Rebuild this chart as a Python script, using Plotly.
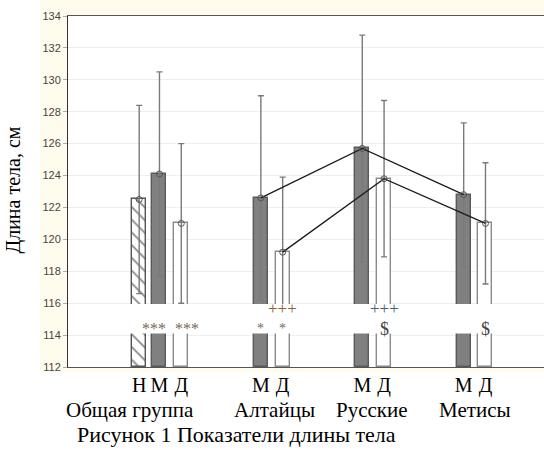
import plotly.graph_objects as go

# Body length (cm): means and standard deviations
groups = ["Общая группа", "Алтайцы", "Русские", "Метисы"]
n_mean = [122.5]
n_sd = [5.9]
m_mean = [124.1, 122.6, 125.7, 122.8]
m_sd = [6.4, 6.4, 7.1, 4.5]
d_mean = [121.0, 119.2, 123.8, 121.0]
d_sd = [5.0, 4.7, 4.9, 3.8]

# significance marks: (text, group index, series, level)
marks = [
    ("***", 0, "М", "low"), ("***", 0, "Д", "low"),
    ("*", 1, "М", "low"), ("*", 1, "Д", "low"),
    ("+++", 1, "Д", "high"),
    ("+++", 2, "Д", "high"), ("$", 2, "Д", "low"),
    ("$", 3, "Д", "low"),
]

# layout of bars inside a group
offset = {"Н": -0.2, "М": 0.0, "Д": 0.215}
bar_w = 0.138
grp = list(range(len(groups)))
xn = [g + offset["Н"] for g in grp[:1]]
xm = [g + offset["М"] for g in grp]
xd = [g + offset["Д"] for g in grp]

serif = "Liberation Serif, Times New Roman, serif"
sans = "Liberation Sans, Arial, sans-serif"
err_col = "#7a7a7a"

fig = go.Figure()

def bars(x, y, sd, fill, line, pattern=None):
    fig.add_trace(go.Bar(
        x=x, y=[v - 112 for v in y], base=112, width=bar_w,
        marker=dict(color=fill, line=dict(color=line, width=1.4),
                    pattern=pattern),
        error_y=dict(type="data", array=sd, color=err_col,
                     thickness=1.4, width=3),
        showlegend=False, hoverinfo="skip",
    ))

bars(xn, n_mean, n_sd, "white", "#555555",
     dict(shape="\\", fgcolor="#111111", bgcolor="white", size=9, solidity=0.2))
bars(xm, m_mean, m_sd, "#808080", "#5a5a5a")
bars(xd, d_mean, d_sd, "white", "#8a8a8a")

# lines joining the ethnic groups
for xs, ys in ((xm[1:], m_mean[1:]), (xd[1:], d_mean[1:])):
    fig.add_trace(go.Scatter(x=xs, y=ys, mode="lines",
                             line=dict(color="#1a1a1a", width=1.3),
                             showlegend=False, hoverinfo="skip"))

# mean markers
fig.add_trace(go.Scatter(
    x=xn + xm + xd, y=n_mean + m_mean + d_mean, mode="markers",
    marker=dict(symbol="circle-open", size=6, color="#555555",
                line=dict(width=1)),
    showlegend=False, hoverinfo="skip"))

shapes = [
    # cream frame around the plotting area
    dict(type="rect", xref="paper", yref="paper", x0=-0.059, x1=1.0,
         y0=-0.014, y1=1.046, fillcolor="#FFFCEE", line_width=0, layer="below"),
    dict(type="rect", xref="paper", yref="paper", x0=0, x1=1, y0=0, y1=1,
         fillcolor="white", line_width=0, layer="below"),
    # white band that interrupts the bars for the significance marks
    dict(type="rect", xref="paper", yref="y", x0=0.004, x1=1,
         y0=114.1, y1=115.95, fillcolor="white", line_width=0, layer="above"),
]

mark_y = {"low": 114.4, "high": 115.65}
mark_col = {"***": "#7a6858", "*": "#7a6858", "+++": "#8a6236", "$": "#444444"}
mark_size = {"***": 16, "*": 14, "+++": 17, "$": 18}
annotations = []
for txt, g, s, lvl in marks:
    col = mark_col[txt]
    if txt == "+++" and g == 2:
        col = "#4a5e6e"
    xs = 0
    if txt == "***":
        xs = -5 if s == "М" else 6
    annotations.append(dict(
        x=g + offset[s], y=mark_y[lvl], xref="x", yref="y", text=txt,
        showarrow=False, xshift=xs,
        font=dict(family=serif, size=mark_size[txt], color=col)))

# group names under the series letters
group_x = [-0.29, 1.13, 2.1, 3.11]
for name, gx in zip(groups, group_x):
    annotations.append(dict(x=gx, y=-0.123, xref="x", yref="paper", text=name,
                            showarrow=False, yanchor="middle",
                            font=dict(family=serif, size=21, color="black")))

annotations.append(dict(x=-0.114, y=0.505, xref="paper", yref="paper",
                        xanchor="center", yanchor="middle",
                        text="Длина тела, см", textangle=-90, showarrow=False,
                        font=dict(family=serif, size=20, color="black")))
annotations.append(dict(x=0.015, y=-0.192, xref="paper", yref="paper",
                        xanchor="left", yanchor="middle",
                        text="Рисунок 1 Показатели длины тела", showarrow=False,
                        font=dict(family=serif, size=22, color="black")))

tick_x = xn + xm + xd
tick_t = ["Н"] + ["М"] * 4 + ["Д"] * 4

fig.update_layout(
    width=544, height=450,
    margin=dict(l=68, r=0, t=16, b=83),
    paper_bgcolor="white", plot_bgcolor="white",
    barmode="overlay", bargap=0,
    shapes=shapes, annotations=annotations,
    xaxis=dict(range=[-0.902, 3.792], tickvals=tick_x, ticktext=tick_t,
               tickfont=dict(family=serif, size=20, color="black"),
               showgrid=False, zeroline=False, ticks="",
               showline=True, linecolor="#555555", linewidth=1, mirror=True),
    yaxis=dict(range=[112, 134], dtick=2, tick0=112,
               tickfont=dict(family=sans, size=11, color="#444444"),
               ticks="outside", ticklen=4, tickcolor="#aaaaaa",
               showgrid=True, gridcolor="#efefef", gridwidth=1,
               zeroline=False, showline=True, linecolor="#333333",
               linewidth=1),
)

fig.write_html("out.html")
